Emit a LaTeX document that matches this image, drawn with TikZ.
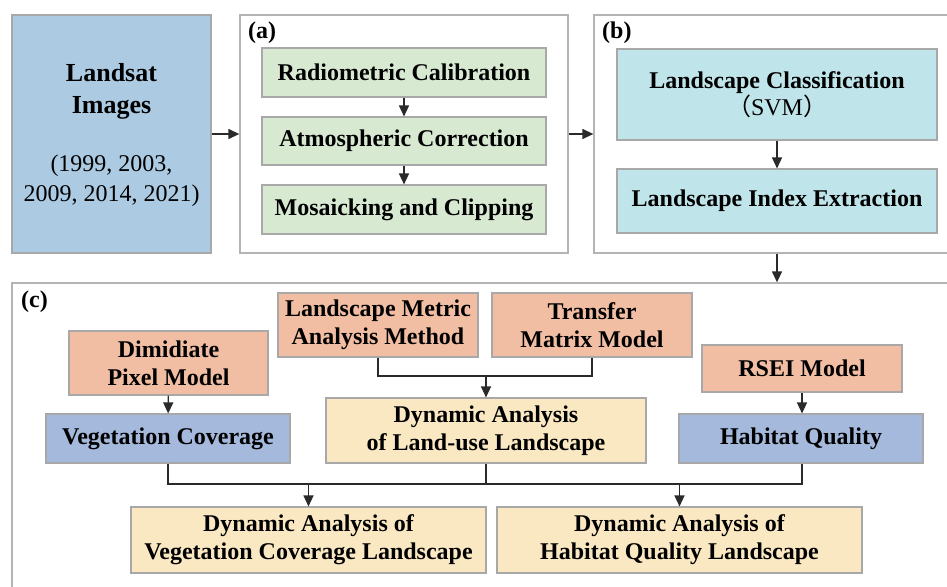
\documentclass[tikz,border=0pt]{standalone}
\usepackage{fontspec}
\setmainfont{Liberation Serif}
\newfontfamily\cjk{Noto Sans CJK SC}
\usetikzlibrary{arrows.meta}

\definecolor{landblue}{HTML}{ACCBE3}
\definecolor{stepgreen}{HTML}{D8E9D2}
\definecolor{stepcyan}{HTML}{BFE4EA}
\definecolor{methodsalmon}{HTML}{F2BEA3}
\definecolor{resultblue}{HTML}{A5B9DD}
\definecolor{analysisyellow}{HTML}{FAE8C3}
\definecolor{boxline}{HTML}{A8A8A8}
\definecolor{panelline}{HTML}{B4B4B4}
\definecolor{wire}{HTML}{2A2A2A}

\begin{document}
\begin{tikzpicture}[x=1pt,y=-1pt,
  box/.style={draw=boxline, line width=1.1pt, inner sep=0pt, align=center,
    font=\bfseries\fontsize{24}{28}\selectfont},
  panel/.style={draw=panelline, line width=1.3pt, fill=white, inner sep=0pt},
  txt/.style={inner sep=0pt, align=center},
  lab/.style={inner sep=0pt, anchor=west, font=\bfseries\fontsize{24}{28}\selectfont},
  conn/.style={draw=wire, line width=1.3pt},
  arr/.style={conn, -{Triangle[width=10pt,length=11pt]}}]

\useasboundingbox (0,0) rectangle (947,586);
\clip (0,0) rectangle (947,586);

% input imagery
\node[box, fill=landblue, minimum width=199pt, minimum height=238pt] (land) at (111.5,134) {};
\node[txt, font=\bfseries\fontsize{26}{32}\selectfont] (landA) at (111.5,91) {Landsat\\Images};
\node[txt, font=\fontsize{24}{30}\selectfont] (landB) at (111.5,181) {(1999, 2003,\\2009, 2014, 2021)};

% (a) preprocessing
\node[panel, minimum width=328pt, minimum height=238pt] (pa) at (404,134) {};
\node[lab] (laba) at (248,33) {(a)};
\node[box, fill=stepgreen, minimum width=284pt, minimum height=49pt] (rc) at (404,72.5) {Radiometric Calibration};
\node[box, fill=stepgreen, minimum width=284pt, minimum height=48pt] (ac) at (404,141) {Atmospheric Correction};
\node[box, fill=stepgreen, minimum width=284pt, minimum height=49pt] (mc) at (404,209.5) {Mosaicking and Clipping};

% (b) classification
\node[panel, minimum width=366pt, minimum height=238pt] (pb) at (777,134) {};
\node[lab] (labb) at (602,33) {(b)};
\node[box, fill=stepcyan, minimum width=320pt, minimum height=91pt] (lc) at (777,94.5)
  {Landscape Classification\\[-1pt]{\mdseries\cjk（}{\mdseries SVM}{\mdseries\cjk）}};
\node[box, fill=stepcyan, minimum width=320pt, minimum height=64pt] (lie) at (777,201) {Landscape Index Extraction};

% (c) analysis
\node[panel, minimum width=948pt, minimum height=320pt] (pc) at (486,443) {};
\node[lab] (labc) at (21,302) {(c)};
\node[box, fill=methodsalmon, minimum width=199pt, minimum height=64pt] (dpm) at (168.5,363) {Dimidiate\\Pixel Model};
\node[box, fill=resultblue, minimum width=244pt, minimum height=49pt] (vc) at (168,438.5) {Vegetation Coverage};
\node[box, fill=methodsalmon, minimum width=200pt, minimum height=64pt] (lm) at (378,325) {Landscape Metric\\Analysis Method};
\node[box, fill=methodsalmon, minimum width=200pt, minimum height=64pt] (tm) at (592,325) {Transfer\\Matrix Model};
\node[box, fill=analysisyellow, minimum width=320pt, minimum height=65pt] (dlu) at (486,430.5) {Dynamic Analysis\\of Land-use Landscape};
\node[box, fill=methodsalmon, minimum width=200pt, minimum height=47pt] (rsei) at (802,368.5) {RSEI Model};
\node[box, fill=resultblue, minimum width=244pt, minimum height=49pt] (hq) at (801,438.5) {Habitat Quality};
\node[box, fill=analysisyellow, minimum width=355pt, minimum height=66pt] (dvc) at (308.5,540) {Dynamic Analysis of\\Vegetation Coverage Landscape};
\node[box, fill=analysisyellow, minimum width=365pt, minimum height=66pt] (dhq) at (679.5,540) {Dynamic Analysis of\\Habitat Quality Landscape};

% junction points
\coordinate (jm) at (486,376);
\coordinate (jb) at (486,484);

% flow between panels
\draw[arr] (land.east) -- (pa.west);
\draw[arr] (pa.east) -- (pb.west);
\draw[arr] (rc) -- (ac);
\draw[arr] (ac) -- (mc);
\draw[arr] (lc) -- (lie);
\draw[arr] (pb.south -| lie.south) -- (pc.north -| lie.south);

% flow inside (c)
\draw[arr] (dpm) -- (vc);
\draw[arr] (rsei.south) -- (rsei.south |- hq.north);
\draw[conn] (lm.south) |- (jm) -| (tm.south);
\draw[arr] (jm) -- (jm |- dlu.north);
\draw[conn] (vc.south) |- (jb) -| (hq.south -| rsei.south);
\draw[conn] (dlu.south) -- (jb);
\draw[arr] (jb -| dvc.north) -- (dvc.north);
\draw[arr] (jb -| dhq.north) -- (dhq.north);
\end{tikzpicture}
\end{document}
